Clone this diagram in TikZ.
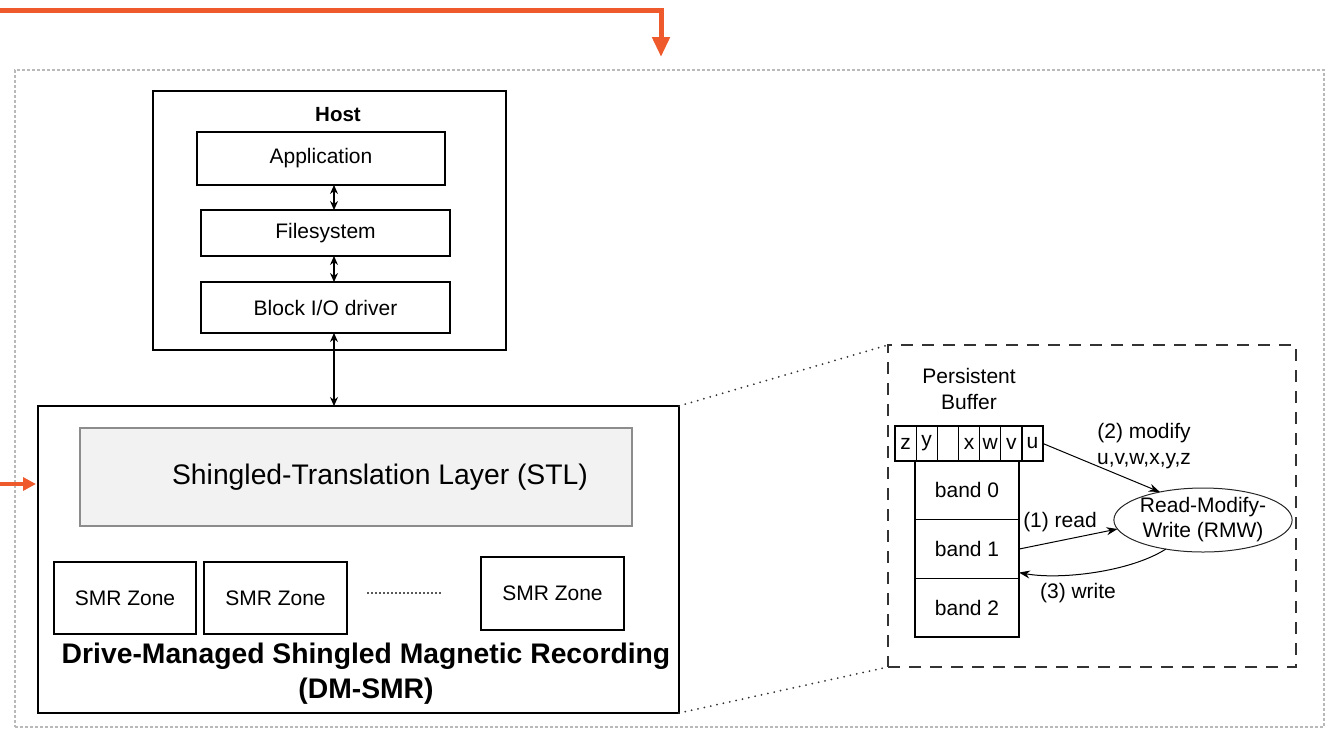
\documentclass[tikz,border=0pt]{standalone}
\usepackage{fontspec}
\setmainfont{Liberation Sans}
\usetikzlibrary{arrows.meta,shapes.geometric,calc}
\definecolor{accent}{HTML}{EE5A2C}
\definecolor{stlfill}{HTML}{F2F2F2}
\definecolor{stlline}{HTML}{8C8C8C}

\begin{document}
\begin{tikzpicture}[x=1pt,y=-1pt,
  every node/.style={inner sep=0pt, outer sep=0pt, font=\fontsize{21}{25}\selectfont},
  box/.style={draw=black, line width=1.3pt},
  outerframe/.style={draw=gray!55, line width=1.4pt, dash pattern=on 3pt off 2pt},
  zoomframe/.style={draw=gray!40!black, line width=1.5pt, dash pattern=on 12pt off 9pt},
  zoomlink/.style={draw=black!80, line width=2pt, dash pattern=on 0pt off 6.5pt, line cap=round},
  biarrow/.style={line width=1.1pt, {Stealth[length=9pt,width=8pt]}-{Stealth[length=9pt,width=8pt]}},
  flow/.style={line width=1pt, -{Stealth[length=11pt,width=8pt]}},
  feed/.style={draw=accent, line width=5pt},
  cell/.style={box, minimum width=21.14pt, minimum height=35pt, anchor=west},
  band/.style={box, minimum width=104pt, minimum height=58.7pt, anchor=north}
]
\useasboundingbox (0,0) rectangle (1332,729);

% outer frame and the orange feed arrows
\node[outerframe, minimum width=1309pt, minimum height=657pt] (outer) at (669.5,398.5) {};
\coordinate (feedstart) at (0,10);
\coordinate (feedtip) at (661,57);
\draw[feed, -{Triangle[length=20pt,width=17pt]}] (feedstart) -| (feedtip);
\coordinate (sidestart) at (0,484);
\coordinate (sidetip) at (36,484);
\draw[feed, line width=3.5pt, -{Triangle[length=13pt,width=13pt]}] (sidestart) -- (sidetip);

% host stack
\node[box, minimum width=353pt, minimum height=259pt] (host) at (329.5,220.5) {};
\node[font=\bfseries\fontsize{20.5}{24}\selectfont] (hosttitle) at (338,115) {Host};
\node[box, minimum width=248pt, minimum height=53pt] (app) at (321,158.5) {Application};
\node[box, minimum width=249pt, minimum height=46pt] (fs) at (325.5,233) {Filesystem};
\node[box, minimum width=249pt, minimum height=51pt] (bio) at (325.5,307.5) {Block I/O driver};

% drive-managed SMR
\node[box, minimum width=641pt, minimum height=307pt] (dmsmr) at (358.5,559.5) {};
\node[draw=stlline, fill=stlfill, line width=1.3pt, minimum width=552pt, minimum height=98pt] (stl) at (356,477) {};
\node[font=\fontsize{28.3}{33}\selectfont] (stllabel) at (380,477) {Shingled-Translation Layer (STL)};
\node[box, minimum width=142pt, minimum height=72pt] (z1) at (125,598) {SMR Zone};
\node[box, minimum width=143pt, minimum height=72pt] (z2) at (275.5,598) {SMR Zone};
\node[box, minimum width=143pt, minimum height=73pt] (z3) at (552.5,593.5) {SMR Zone};
\coordinate (dotsL) at (367,593);
\coordinate (dotsR) at (442,593);
\draw[draw=gray!70!black, line width=1.2pt, dash pattern=on 2pt off 2pt] (dotsL) -- (dotsR);
\node[font=\bfseries\fontsize{28.3}{35}\selectfont, align=center] (title) at (366,673.5)
  {Drive-Managed Shingled Magnetic Recording\\(DM-SMR)};

% host to drive links
\coordinate (io) at (334,0);
\draw[biarrow] (io |- app.south) -- (io |- fs.north);
\draw[biarrow] (io |- fs.south) -- (io |- bio.north);
\draw[biarrow] (io |- bio.south) -- (io |- dmsmr.north);

% zoomed detail of the read-modify-write path
\node[zoomframe, minimum width=408pt, minimum height=322pt] (zoomfrm) at (1092,506) {};
\draw[zoomlink] (dmsmr.north east) -- (zoomfrm.north west);
\draw[zoomlink] (dmsmr.south east) -- (zoomfrm.south west);

\node[align=center, font=\fontsize{21}{26}\selectfont] (pbuf) at (969,389) {Persistent\\Buffer};
\node[cell] (c1) at (895,443.5) {z};
\node[cell] (c2) at (c1.east) {y};
\node[cell] (c3) at (c2.east) {};
\node[cell] (c4) at (c3.east) {x};
\node[cell] (c5) at (c4.east) {w};
\node[cell] (c6) at (c5.east) {v};
\node[cell] (c7) at (c6.east) {u};

\node[band] (b0) at (967,461) {band 0};
\node[band] (b1) at (b0.south) {band 1};
\node[band] (b2) at (b1.south) {band 2};

\node[draw=black!85, line width=1pt, ellipse, minimum width=164pt, minimum height=64pt, align=center,
      font=\fontsize{21}{25}\selectfont] (rmw) at (1203,520) {Read-Modify-\\Write (RMW)};

\draw[flow] (c7.east) -- (rmw.147);
\node[align=center, font=\fontsize{21}{26}\selectfont] (modlabel) at (1144,446) {(2) modify\\u,v,w,x,y,z};
\draw[flow] (b1.east) -- (rmw.186);
\node (readlabel) at (1060,522) {(1) read};
\draw[flow] (rmw.218) .. controls (1130,572) and (1060,580) .. ([yshift=-23.5pt]b1.east);
\node (writelabel) at (1078,593) {(3) write};
\end{tikzpicture}
\end{document}
